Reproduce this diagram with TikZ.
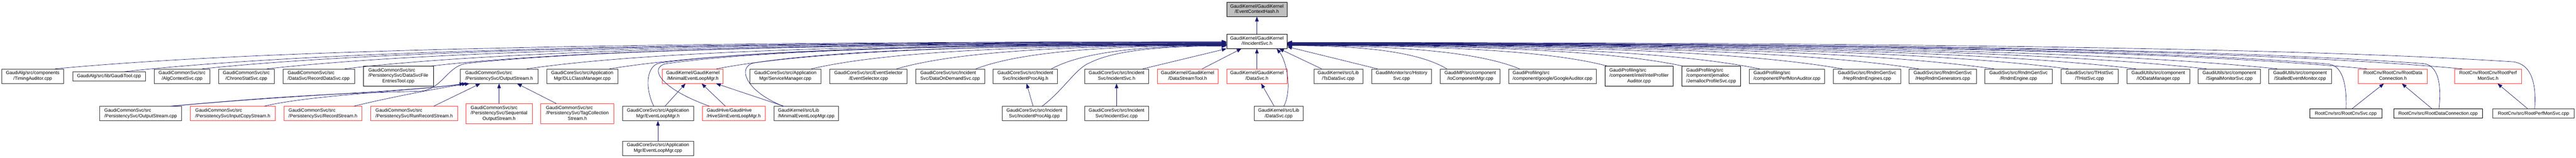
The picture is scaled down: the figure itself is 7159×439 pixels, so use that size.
\documentclass[tikz,border=0pt]{standalone}
\usepackage{fontspec}
\setmainfont{Liberation Sans}
\usetikzlibrary{arrows.meta, calc}
\definecolor{midblue}{RGB}{25,25,112}
\definecolor{doxred}{RGB}{255,60,60}
\newcommand{\lbltwo}[2]{\begin{tabular}{@{}l@{}}#1\\\multicolumn{1}{@{}c@{}}{#2}\end{tabular}}
\newcommand{\lblthree}[3]{\begin{tabular}{@{}l@{}}#1\\#2\\\multicolumn{1}{@{}c@{}}{#3}\end{tabular}}
\newcommand{\bcurve}[2]{let \p1=(#1), \p2=(#2) in (\p1) .. controls ({\x1+0.14*(\x2-\x1)},{\y1+0.57*(\y2-\y1)}) and ({\x2-0.59*(\x2-\x1)},\y2) .. (\p2)}

\begin{document}
\begin{tikzpicture}[x=1pt, y=1pt, >={Triangle[length=13pt,width=10pt]},
  file/.style={draw=black!80, line width=1pt, fill=white, inner sep=0pt, minimum height=40pt, font=\fontsize{13}{15}\selectfont},
  trunc/.style={file, draw=doxred},
  hilite/.style={file, draw=black, fill=black!25},
  oneline/.style={minimum height=25.5pt},
  threeline/.style={minimum height=55pt},
  incl/.style={->, draw=midblue, line width=1pt}]
  \useasboundingbox (0,0) rectangle (7159,-439);

  \node[hilite, minimum width=168] (ech) at (3493,-26) {\lbltwo{GaudiKernel/GaudiKernel}{/EventContextHash.h}};
  \node[file, draw=black, minimum width=168] (inc) at (3493,-115) {\lbltwo{GaudiKernel/GaudiKernel}{/IIncidentSvc.h}};

  \node[file, minimum width=172] (timing) at (91,-212) {\lbltwo{GaudiAlg/src/components}{/TimingAuditor.cpp}};
  \node[file, oneline, minimum width=202] (gtool) at (303,-212.5) {GaudiAlg/src/lib/GaudiTool.cpp};
  \node[file, minimum width=154] (algctx) at (506,-212) {\lbltwo{GaudiCommonSvc/src}{/AlgContextSvc.cpp}};
  \node[file, minimum width=155] (chrono) at (684.5,-212) {\lbltwo{GaudiCommonSvc/src}{/ChronoStatSvc.cpp}};
  \node[file, minimum width=199] (recdata) at (885.5,-212) {\lbltwo{GaudiCommonSvc/src}{/DataSvc/RecordDataSvc.cpp}};
  \node[file, draw=black, threeline, minimum width=194] (dsfe) at (1107,-211.5) {\lblthree{GaudiCommonSvc/src}{/PersistencySvc/DataSvcFile}{EntriesTool.cpp}};
  \node[file, minimum width=216] (osh) at (1387,-212) {\lbltwo{GaudiCommonSvc/src}{/PersistencySvc/OutputStream.h}};
  \node[file, minimum width=198] (dll) at (1618,-212) {\lbltwo{GaudiCoreSvc/src/Application}{Mgr/DLLClassManager.cpp}};
  \node[trunc, minimum width=169] (mgrh) at (1925.5,-212) {\lbltwo{GaudiKernel/GaudiKernel}{/MinimalEventLoopMgr.h}};
  \node[file, minimum width=197] (svcmgr) at (2182.5,-212) {\lbltwo{GaudiCoreSvc/src/Application}{Mgr/ServiceManager.cpp}};
  \node[file, minimum width=215] (evsel) at (2413.5,-212) {\lbltwo{GaudiCoreSvc/src/EventSelector}{/EventSelector.cpp}};
  \node[file, minimum width=191] (dod) at (2640.5,-212) {\lbltwo{GaudiCoreSvc/src/Incident}{Svc/DataOnDemandSvc.cpp}};
  \node[file, minimum width=179] (ipah) at (2849.5,-212) {\lbltwo{GaudiCoreSvc/src/Incident}{Svc/IncidentProcAlg.h}};
  \node[file, minimum width=178] (isvch) at (3103,-212) {\lbltwo{GaudiCoreSvc/src/Incident}{Svc/IncidentSvc.h}};
  \node[trunc, minimum width=169] (dst) at (3300.5,-212) {\lbltwo{GaudiKernel/GaudiKernel}{/DataStreamTool.h}};
  \node[trunc, minimum width=168] (dsvch) at (3493,-212) {\lbltwo{GaudiKernel/GaudiKernel}{/DataSvc.h}};
  \node[file, minimum width=136] (tsds) at (3719,-212) {\lbltwo{GaudiKernel/src/Lib}{/TsDataSvc.cpp}};
  \node[file, minimum width=166] (hist) at (3895,-212) {\lbltwo{GaudiMonitor/src/History}{Svc.cpp}};
  \node[file, minimum width=166] (iocomp) at (4086,-212) {\lbltwo{GaudiMP/src/component}{/IoComponentMgr.cpp}};
  \node[file, minimum width=243] (google) at (4314.5,-212) {\lbltwo{GaudiProfiling/src}{/component/google/GoogleAuditor.cpp}};
  \node[file, draw=black, threeline, minimum width=188] (intel) at (4555,-211.5) {\lblthree{GaudiProfiling/src}{/component/intel/IntelProfiler}{Auditor.cpp}};
  \node[file, draw=black, threeline, minimum width=163] (jemal) at (4755.5,-211.5) {\lblthree{GaudiProfiling/src}{/component/jemalloc}{/JemallocProfileSvc.cpp}};
  \node[file, minimum width=210] (perfmon) at (4966,-212) {\lbltwo{GaudiProfiling/src}{/component/PerfMonAuditor.cpp}};
  \node[file, minimum width=187] (hreng) at (5188.5,-212) {\lbltwo{GaudiSvc/src/RndmGenSvc}{/HepRndmEngines.cpp}};
  \node[file, minimum width=188] (hrgen) at (5399,-212) {\lbltwo{GaudiSvc/src/RndmGenSvc}{/HepRndmGenerators.cpp}};
  \node[file, minimum width=187] (reng) at (5609.5,-212) {\lbltwo{GaudiSvc/src/RndmGenSvc}{/RndmEngine.cpp}};
  \node[file, minimum width=160] (thist) at (5807,-212) {\lbltwo{GaudiSvc/src/THistSvc}{/THistSvc.cpp}};
  \node[file, minimum width=174] (iodm) at (5998,-212) {\lbltwo{GaudiUtils/src/component}{/IODataManager.cpp}};
  \node[file, minimum width=173] (sigmon) at (6195.5,-212) {\lbltwo{GaudiUtils/src/component}{/SignalMonitorSvc.cpp}};
  \node[file, minimum width=174] (stalled) at (6392,-212) {\lbltwo{GaudiUtils/src/component}{/StalledEventMonitor.cpp}};
  \node[trunc, minimum width=192] (rdch) at (6650,-212) {\lbltwo{RootCnv/RootCnv/RootData}{Connection.h}};
  \node[trunc, minimum width=187] (rpmh) at (6914.5,-212) {\lbltwo{RootCnv/RootCnv/RootPerf}{MonSvc.h}};

  \node[file, minimum width=228] (ostrcpp) at (391,-316) {\lbltwo{GaudiCommonSvc/src}{/PersistencySvc/OutputStream.cpp}};
  \node[trunc, minimum width=236] (icopy) at (647,-316) {\lbltwo{GaudiCommonSvc/src}{/PersistencySvc/InputCopyStream.h}};
  \node[trunc, minimum width=217] (recstr) at (897.5,-316) {\lbltwo{GaudiCommonSvc/src}{/PersistencySvc/RecordStream.h}};
  \node[trunc, minimum width=242] (runrec) at (1151,-316) {\lbltwo{GaudiCommonSvc/src}{/PersistencySvc/RunRecordStream.h}};
  \node[trunc, threeline, minimum width=184] (seqout) at (1387,-316) {\lblthree{GaudiCommonSvc/src}{/PersistencySvc/Sequential}{OutputStream.h}};
  \node[trunc, threeline, minimum width=203] (tagcol) at (1604.5,-316) {\lblthree{GaudiCommonSvc/src}{/PersistencySvc/TagCollection}{Stream.h}};
  \node[file, minimum width=197] (elmh) at (1828.5,-316) {\lbltwo{GaudiCoreSvc/src/Application}{Mgr/EventLoopMgr.h}};
  \node[trunc, minimum width=174] (hive) at (2039,-316) {\lbltwo{GaudiHive/GaudiHive}{/HiveSlimEventLoopMgr.h}};
  \node[file, minimum width=179] (mgrcpp) at (2240.5,-316) {\lbltwo{GaudiKernel/src/Lib}{/MinimalEventLoopMgr.cpp}};
  \node[file, minimum width=179] (ipacpp) at (2874.5,-316) {\lbltwo{GaudiCoreSvc/src/Incident}{Svc/IncidentProcAlg.cpp}};
  \node[file, minimum width=178] (isvccpp) at (3103,-316) {\lbltwo{GaudiCoreSvc/src/Incident}{Svc/IncidentSvc.cpp}};
  \node[file, minimum width=137] (dsvccpp) at (3553.5,-316) {\lbltwo{GaudiKernel/src/Lib}{/DataSvc.cpp}};
  \node[file, draw=black, oneline, minimum width=200] (rcnvsvc) at (6519,-316) {RootCnv/src/RootCnvSvc.cpp};
  \node[file, draw=black, oneline, minimum width=247] (rdccpp) at (6775.5,-316) {RootCnv/src/RootDataConnection.cpp};
  \node[file, oneline, minimum width=226] (rpmcpp) at (7041,-316) {RootCnv/src/RootPerfMonSvc.cpp};

  \node[file, minimum width=197] (elmcpp) at (1828.5,-412.5) {\lbltwo{GaudiCoreSvc/src/Application}{Mgr/EventLoopMgr.cpp}};

  \draw[incl] (inc) -- (ech);

  \foreach \src/\sh/\ey in {timing/62/-1, gtool/43/-2, algctx/56/-3, chrono/57.5/-4, recdata/72.5/-5, dsfe/93/-6, osh/77/-7.5, dll/76/-8, mgrh/65.5/-9.5, svcmgr/72.5/-10.5, evsel/78.5/-11, dod/71.5/-11.5, ipah/72.5/-12}
    \draw[incl] \bcurve{[xshift=\sh]\src.north}{[yshift=\ey]inc.west};

  \foreach \src/\sh/\ey in {iocomp/-65/-12, google/-91.5/-11.5, intel/-89/-11, jemal/-80/-10.5, perfmon/-76/-10, hreng/-69/-9.5, hrgen/-67/-9, reng/-68/-8.5, thist/-59/-8, iodm/-62/-7.5, sigmon/-63.5/-7, stalled/-63/-6.5, rdch/-72/-5.5, rpmh/-71.5/-4}
    \draw[incl] \bcurve{[xshift=\sh]\src.north}{[yshift=\ey]inc.east};

  \draw[incl] ([xshift=73]isvch.north) -- (inc.south west);
  \draw[incl] ([xshift=40.5]dst.north) -- ([xshift=-43]inc.south);
  \draw[incl] (dsvch) -- (inc);
  \draw[incl] ([xshift=-46]tsds.north) -- ([xshift=62]inc.south);
  \draw[incl] ([xshift=-67]hist.north) -- ([yshift=-15]inc.east);

  \draw[incl] ([xshift=83]ostrcpp.north) .. controls +(350,32) and +(-150,-22) .. ([xshift=-97]osh.south);
  \draw[incl] ([xshift=87]icopy.north) .. controls +(120,30) and +(-150,-20) .. ([xshift=-90]osh.south);
  \draw[incl] ([xshift=85.5]recstr.north) .. controls +(100,25) and +(-60,-8) .. ([xshift=-82]osh.south);
  \draw[incl] ([xshift=54]runrec.north) -- ([xshift=-52]osh.south);
  \draw[incl] (seqout) -- (osh);
  \draw[incl] ([xshift=-58.5]tagcol.north) -- ([xshift=50]osh.south);
  \draw[incl] ([xshift=19.5]elmh.north) -- ([xshift=-20.5]mgrh.south);
  \draw[incl] ([xshift=-23]hive.north) -- ([xshift=24.5]mgrh.south);
  \draw[incl] ([xshift=-62]mgrcpp.north) -- ([xshift=64.5]mgrh.south);
  \draw[incl] (elmcpp) -- (elmh);
  \draw[incl] ([xshift=-3.5]ipacpp.north) -- ([xshift=3.5]ipah.south);
  \draw[incl] (isvccpp) -- (isvch);
  \draw[incl] ([xshift=-12.5]dsvccpp.north) -- ([xshift=12]dsvch.south);
  \draw[incl] ([xshift=17]rcnvsvc.north) -- ([xshift=-25]rdch.south);
  \draw[incl] ([xshift=-16.5]rdccpp.north) -- ([xshift=25]rdch.south);
  \draw[incl] ([xshift=-16]rpmcpp.north) -- ([xshift=26.5]rpmh.south);

  \draw[incl] ([xshift=83]ostrcpp.north) .. controls +(350,32) and +(-200,-6) .. (1160,-254) .. controls +(70,0) and +(-60,-6) .. (1300,-176) \bcurve{1300,-176}{[yshift=-7]inc.west};
  \draw[incl] ([xshift=-11.5]elmh.north) .. controls +(-25,50) and +(-40,-6) .. (1835,-175) \bcurve{1835,-175}{[yshift=-8.5]inc.west};
  \draw[incl] ([xshift=-67]hive.north) .. controls +(-140,50) and +(-50,-10) .. (1852,-177) \bcurve{1852,-177}{[yshift=-9]inc.west};
  \draw[incl] ([xshift=-64]mgrcpp.north) .. controls +(-110,45) and +(-45,-10) .. (2095,-175) \bcurve{2095,-175}{[yshift=-10]inc.west};
  \draw[incl] ([xshift=21.5]ipacpp.north) .. controls +(60,45) and +(-40,-15) .. (3030,-174) \bcurve{3030,-174}{[yshift=-13]inc.west};
  \draw[incl] ([xshift=14.5]dsvccpp.north) .. controls +(25,50) and +(25,-30) .. ([xshift=55]inc.south);
  \draw[incl] ([xshift=1]rcnvsvc.north) .. controls +(2,70) and +(40,-4) .. (6470,-178) \bcurve{6470,-178}{[yshift=-6]inc.east};
  \draw[incl] ([xshift=2.5]rdccpp.north) .. controls +(8,70) and +(40,-4) .. (6735,-177) \bcurve{6735,-177}{[yshift=-5]inc.east};
  \draw[incl] ([xshift=3]rpmcpp.north) .. controls +(6,80) and +(45,-6) .. (6985,-172) \bcurve{6985,-172}{[yshift=-3]inc.east};
\end{tikzpicture}
\end{document}
